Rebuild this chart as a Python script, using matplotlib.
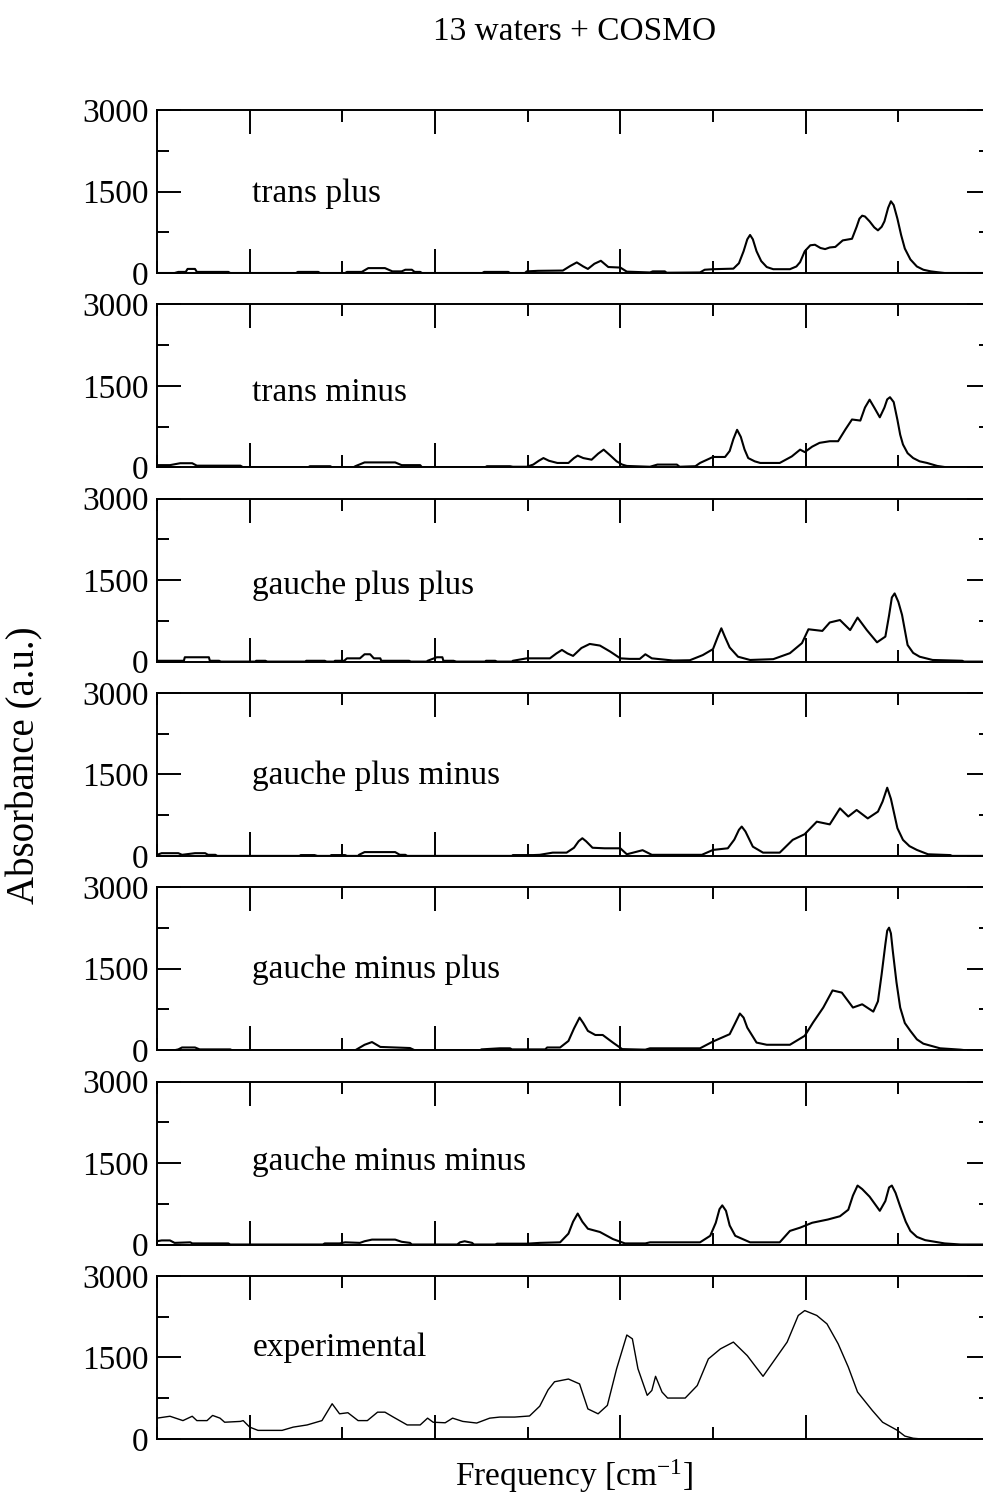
import matplotlib
matplotlib.use("Agg")
import matplotlib.pyplot as plt
from matplotlib.ticker import MultipleLocator, NullFormatter

plt.rcParams['font.family'] = ['Liberation Serif', 'DejaVu Serif']
plt.rcParams['mathtext.fontset'] = 'custom'
plt.rcParams['mathtext.rm'] = 'Liberation Serif'
plt.rcParams['mathtext.it'] = 'Liberation Serif:italic'

# computed IR spectra, frequency in cm^-1, absorbance in a.u.
tp_freq = [700, 719, 723, 731, 733, 741, 743, 777, 779, 850, 852, 874, 876, 903, 905, 921, 928, 946, 954,
           964, 968, 975, 978, 984, 986, 1051, 1053, 1079, 1081, 1097, 1099, 1111, 1138, 1146, 1153, 1160,
           1165, 1172, 1179, 1187, 1200, 1207, 1232, 1235, 1248, 1250, 1286, 1291, 1300, 1322, 1328, 1333,
           1337, 1340, 1343, 1347, 1352, 1358, 1365, 1383, 1390, 1394, 1399, 1405, 1410, 1416, 1421, 1426,
           1432, 1440, 1450, 1455, 1458, 1461, 1464, 1469, 1474, 1478, 1482, 1485, 1489, 1492, 1495, 1499,
           1503, 1507, 1513, 1520, 1527, 1535, 1542, 1550, 1600]
tp_abs = [0, 0, 20, 20, 75, 75, 20, 20, 0, 0, 20, 20, 0, 0, 20, 20, 90, 90, 30,
          30, 60, 60, 20, 20, 0, 0, 20, 20, 0, 0, 30, 40, 45, 130, 195, 120,
          75, 170, 225, 110, 100, 25, 10, 30, 30, 5, 10, 60, 70, 80, 180, 400,
          620, 700, 620, 400, 220, 110, 70, 70, 120, 200, 400, 510, 520, 460, 440, 470,
          480, 600, 630, 850, 1000, 1055, 1040, 950, 840, 785, 850, 950, 1200, 1320, 1250, 1000,
          700, 450, 250, 120, 60, 30, 15, 0, 0]

tm_freq = [700, 714, 725, 738, 743, 790, 793, 863, 865, 887, 889, 912, 914, 924, 957, 964, 984, 986,
           1054, 1056, 1081, 1084, 1099, 1106, 1112, 1117, 1123, 1132, 1144, 1150, 1154, 1160, 1169, 1176,
           1182, 1189, 1196, 1202, 1207, 1232, 1240, 1261, 1264, 1281, 1286, 1300, 1313, 1318, 1322, 1326,
           1330, 1334, 1338, 1345, 1351, 1372, 1385, 1394, 1399, 1407, 1415, 1426, 1435, 1443, 1450, 1459,
           1464, 1469, 1474, 1480, 1485, 1488, 1491, 1495, 1499, 1502, 1505, 1510, 1516, 1523, 1531, 1542,
           1552, 1600]
tm_abs = [40, 40, 75, 75, 30, 30, 0, 0, 20, 20, 0, 0, 20, 90, 90, 40, 40, 0,
          0, 20, 20, 10, 10, 50, 120, 170, 120, 80, 80, 170, 215, 170, 140, 250,
          325, 220, 110, 50, 25, 10, 50, 50, 10, 20, 80, 190, 190, 300, 520, 690,
          560, 330, 170, 110, 80, 80, 200, 325, 280, 380, 450, 480, 480, 700, 880, 860,
          1100, 1245, 1100, 920, 1100, 1250, 1290, 1200, 875, 600, 420, 260, 170, 110, 80, 25,
          0, 0]

gpp_freq = [700, 729, 730, 756, 757, 767, 769, 806, 807, 817, 819, 860, 861, 881, 883, 891, 892, 902,
            905, 919, 924, 930, 934, 941, 942, 972, 974, 991, 992, 1002, 1008, 1009, 1020, 1023, 1054,
            1055, 1065, 1067, 1083, 1084, 1099, 1124, 1131, 1137, 1143, 1149, 1158, 1167, 1178, 1189,
            1200, 1210, 1221, 1227, 1234, 1257, 1275, 1289, 1300, 1305, 1309, 1313, 1318, 1327, 1340,
            1365, 1383, 1396, 1403, 1418, 1426, 1437, 1448, 1456, 1466, 1477, 1486, 1490, 1493, 1496,
            1500, 1504, 1510, 1516, 1523, 1537, 1569, 1571, 1600]
gpp_abs = [15, 15, 80, 80, 15, 15, 0, 0, 15, 15, 0, 0, 15, 15, 0, 0, 15, 15,
           60, 60, 135, 135, 60, 60, 15, 15, 0, 0, 15, 80, 80, 15, 15, 0, 0,
           15, 15, 0, 0, 15, 60, 60, 150, 215, 150, 105, 250, 325, 295, 185,
           60, 50, 50, 135, 60, 20, 25, 120, 230, 450, 613, 450, 260, 90, 30,
           45, 155, 340, 595, 565, 720, 765, 580, 810, 580, 355, 460, 850, 1180, 1255,
           1100, 860, 305, 160, 90, 30, 15, 0, 0]

gpm_freq = [700, 705, 723, 727, 741, 752, 755, 763, 765, 854, 855, 870, 873, 887, 888, 903, 905, 917,
            918, 924, 957, 962, 968, 970, 1083, 1084, 1106, 1113, 1127, 1142, 1150, 1155, 1159, 1163,
            1170, 1183, 1200, 1207, 1224, 1234, 1288, 1300, 1316, 1323, 1328, 1331, 1335, 1343, 1354,
            1372, 1386, 1399, 1412, 1426, 1437, 1446, 1455, 1467, 1478, 1483, 1488, 1492, 1499, 1505,
            1512, 1520, 1532, 1556, 1558, 1600]
gpm_abs = [20, 50, 50, 20, 50, 50, 20, 20, 0, 0, 15, 15, 0, 0, 15, 15, 0, 0,
           20, 70, 70, 20, 20, 0, 0, 15, 15, 20, 60, 60, 150, 270, 325, 270,
           150, 140, 140, 30, 105, 20, 20, 110, 140, 300, 480, 540, 450, 170, 60,
           60, 295, 400, 630, 580, 875, 725, 845, 690, 815, 1000, 1255, 1050, 510, 295,
           180, 110, 30, 15, 0, 0]

gmp_freq = [700, 719, 723, 727, 741, 746, 779, 781, 914, 917, 924, 932, 941, 973, 978, 1049, 1050, 1070,
            1081, 1083, 1119, 1121, 1135, 1144, 1150, 1156, 1160, 1165, 1173, 1181, 1192, 1202, 1227,
            1232, 1286, 1300, 1318, 1324, 1329, 1333, 1337, 1347, 1358, 1383, 1399, 1408, 1419, 1429,
            1439, 1451, 1461, 1473, 1478, 1482, 1486, 1488, 1490, 1492, 1494, 1498, 1502, 1507, 1513,
            1520, 1527, 1545, 1567, 1572, 1600]
gmp_abs = [0, 0, 15, 50, 50, 15, 15, 0, 0, 30, 100, 150, 60, 40, 0, 0, 15, 35,
           35, 15, 15, 50, 50, 170, 400, 600, 500, 355, 280, 280, 140, 20, 10,
           35, 35, 160, 295, 500, 675, 600, 415, 140, 100, 100, 265, 510, 785, 1100,
           1060, 785, 845, 710, 900, 1400, 1950, 2200, 2255, 2150, 1830, 1250, 785, 500, 355,
           200, 120, 35, 10, 0, 0]

gmm_freq = [700, 705, 714, 719, 736, 738, 777, 779, 879, 881, 897, 903, 919, 924, 932, 957, 964, 973,
            975, 1024, 1027, 1032, 1040, 1042, 1065, 1067, 1081, 1099, 1113, 1135, 1144, 1149, 1154,
            1159, 1165, 1178, 1192, 1205, 1227, 1232, 1286, 1297, 1303, 1307, 1310, 1314, 1318, 1324,
            1340, 1372, 1383, 1394, 1407, 1424, 1437, 1446, 1451, 1456, 1461, 1469, 1480, 1486, 1490,
            1493, 1497, 1502, 1508, 1513, 1520, 1529, 1550, 1567, 1600]
gmm_abs = [60, 75, 75, 30, 40, 20, 20, 0, 0, 20, 20, 40, 30, 60, 90, 90, 50, 30,
           0, 0, 40, 60, 30, 0, 0, 15, 15, 15, 30, 40, 200, 420, 570,
           420, 290, 230, 100, 20, 20, 40, 40, 160, 400, 650, 720, 620, 350, 160,
           40, 40, 250, 310, 400, 460, 520, 640, 900, 1085, 1020, 880, 620, 800, 1050,
           1085, 950, 700, 420, 250, 140, 80, 20, 0, 0]

exp_freq = [700, 714, 728, 738, 743, 754, 760, 768, 773, 790, 793, 800, 809, 835, 847, 862, 878, 889,
            897, 906, 917, 927, 938, 946, 955, 970, 984, 992, 998, 1011, 1019, 1030, 1045, 1059, 1070,
            1086, 1102, 1113, 1122, 1129, 1144, 1156, 1165, 1176, 1186, 1196, 1207, 1213, 1219, 1229,
            1234, 1238, 1245, 1251, 1270, 1283, 1295, 1308, 1322, 1337, 1345, 1354, 1361, 1380, 1392,
            1399, 1412, 1423, 1435, 1446, 1456, 1472, 1483, 1499, 1507, 1516, 1523, 1600]
exp_abs = [380, 415, 335, 415, 335, 335, 430, 380, 305, 320, 335, 215, 155, 155, 215, 255, 335, 645,
           460, 480, 335, 335, 490, 490, 400, 255, 255, 380, 305, 295, 380, 320, 290, 380, 400,
           400, 420, 600, 900, 1050, 1100, 1010, 550, 460, 615, 1290, 1910, 1840, 1290, 800,
           890, 1150, 860, 750, 750, 980, 1470, 1655, 1780, 1530, 1350, 1150, 1320, 1780, 2270,
           2360, 2270, 2115, 1750, 1320, 860, 520, 305, 155, 50, 10, 0, 0]

labels = ['trans plus', 'trans minus', 'gauche plus plus', 'gauche plus minus',
          'gauche minus plus', 'gauche minus minus', 'experimental']
freqs = [tp_freq, tm_freq, gpp_freq, gpm_freq, gmp_freq, gmm_freq, exp_freq]
spectra = [tp_abs, tm_abs, gpp_abs, gpm_abs, gmp_abs, gmm_abs, exp_abs]
label_y = [1310, 1215, 1250, 1325, 1325, 1380, 1530]

W, H = 983, 1494
fig = plt.figure(figsize=(W / 100, H / 100), dpi=100)

left_px, right_px = 157, 991
top0, pitch, panel_h = 110, 194.3, 163

for i in range(7):
    top = top0 + i * pitch
    ax = fig.add_axes([left_px / W, 1 - (top + panel_h) / H, (right_px - left_px) / W, panel_h / H])
    lw = 1.0 if i == 6 else 1.5
    ax.plot(freqs[i], spectra[i], color='black', lw=lw)
    ax.set_xlim(700, 1600)
    ax.set_ylim(0, 3000)
    ax.xaxis.set_major_locator(MultipleLocator(200))
    ax.xaxis.set_minor_locator(MultipleLocator(100))
    ax.xaxis.set_major_formatter(NullFormatter())
    ax.set_yticks([0, 1500, 3000])
    ax.yaxis.set_minor_locator(MultipleLocator(750))
    ax.tick_params(which='both', direction='in', top=True, right=True, width=1.4, labelsize=24, pad=6)
    ax.tick_params(which='major', length=17)
    ax.tick_params(which='minor', length=8.5)
    for s in ax.spines.values():
        s.set_linewidth(1.4)
    ax.text(803, label_y[i], labels[i], fontsize=24, va='baseline', ha='left')

fig.text(575 / W, 1 - 32 / H, '13 waters + COSMO', fontsize=24, ha='center', va='center')
fig.text(25 / W, 1 - 765 / H, 'Absorbance (a.u.)', fontsize=28, rotation=90, ha='center', va='center')
fig.text(574 / W, 1 - 1476 / H, r'Frequency [cm$^{-1}$]', fontsize=24, ha='center', va='center')

fig.savefig('out.png', dpi=100)
